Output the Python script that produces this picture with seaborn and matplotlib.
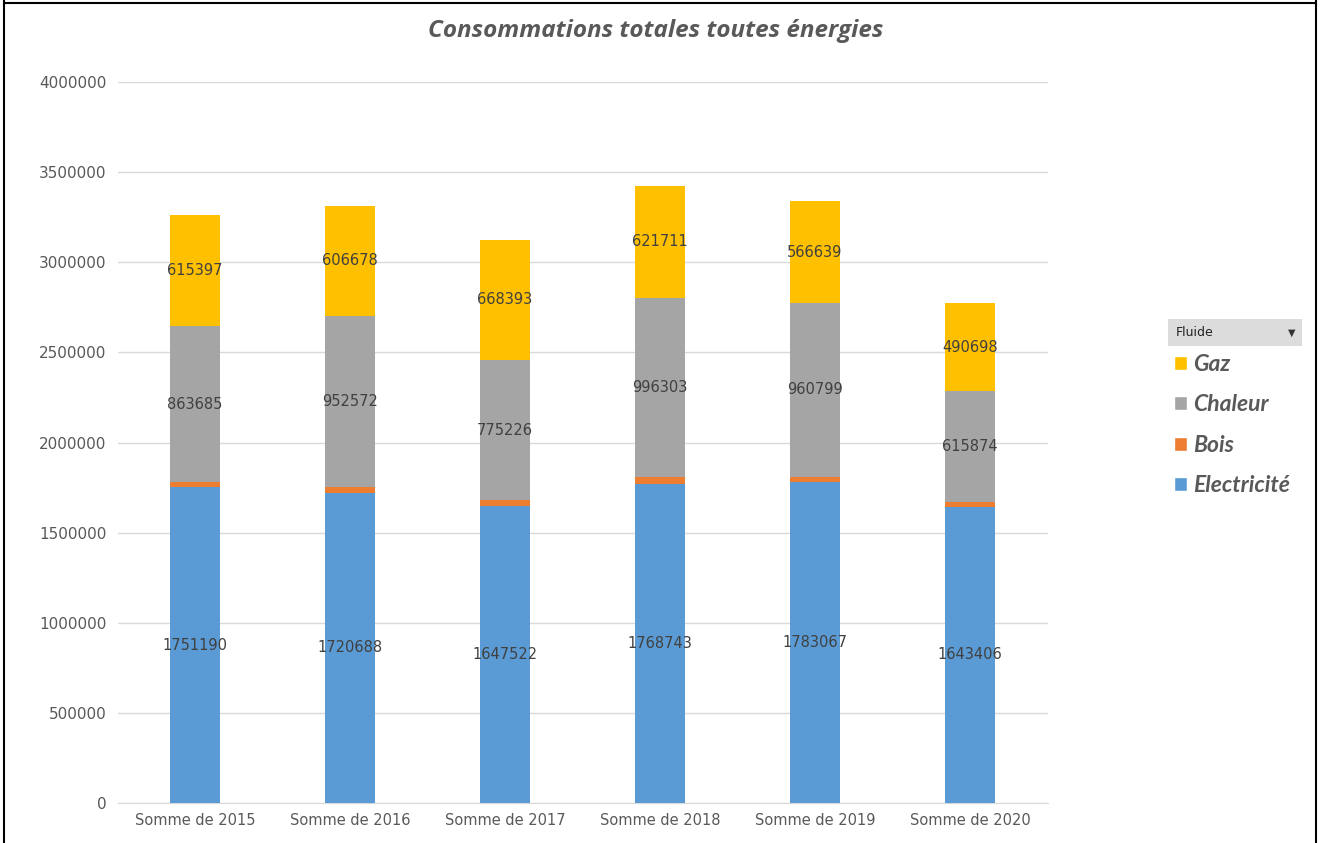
import numpy as np
import pandas as pd
import seaborn as sns
import matplotlib.pyplot as plt
from matplotlib.patches import Patch, Rectangle
from matplotlib.lines import Line2D

sns.set_style("white")

# values
annees = ["Somme de 2015", "Somme de 2016", "Somme de 2017",
          "Somme de 2018", "Somme de 2019", "Somme de 2020"]
electricite = [1751190, 1720688, 1647522, 1768743, 1783067, 1643406]
bois = [30000, 31000, 34000, 38000, 28000, 25000]  # not labelled, estimated
chaleur = [863685, 952572, 775226, 996303, 960799, 615874]
gaz = [615397, 606678, 668393, 621711, 566639, 490698]

fluides = ["Electricité", "Bois", "Chaleur", "Gaz"]
couleurs = {"Electricité": "#5B9BD5", "Bois": "#ED7D31",
            "Chaleur": "#A5A5A5", "Gaz": "#FFC000"}

df = pd.DataFrame({"annee": annees, "Electricité": electricite, "Bois": bois,
                   "Chaleur": chaleur, "Gaz": gaz})
cum = df[fluides].cumsum(axis=1)

fig = plt.figure(figsize=(13.2, 8.43), dpi=100)
ax = fig.add_axes([117.5 / 1320, 1 - 803 / 843, 930 / 1320, (803 - 82) / 843])

# stacked bars: draw cumulative totals from the top layer down
for f in fluides[::-1]:
    sns.barplot(x=df["annee"], y=cum[f], color=couleurs[f], width=0.32,
                saturation=1, ax=ax, zorder=3, linewidth=0, edgecolor="none")

# data labels (Bois is too thin, no label)
for f in ["Electricité", "Chaleur", "Gaz"]:
    for i in range(len(df)):
        y = cum[f][i] - df[f][i] / 2
        ax.text(i, y, f"{df[f][i]}", ha="center", va="center",
                fontsize=10.5, color="#404040", zorder=4)

ax.set_ylim(0, 4000000)
ax.set_xlim(-0.5, 5.5)
ax.set_yticks(np.arange(0, 4000001, 500000))
ax.set_yticklabels([f"{v}" for v in range(0, 4000001, 500000)])
ax.yaxis.grid(True, color="#d9d9d9", linewidth=1, zorder=0)
ax.set_axisbelow(True)
for s in ["top", "right", "left"]:
    ax.spines[s].set_visible(False)
ax.spines["bottom"].set_color("#d9d9d9")
ax.tick_params(axis="both", length=0, colors="#595959")
ax.tick_params(axis="y", pad=8, labelsize=11)
ax.tick_params(axis="x", pad=7, labelsize=10.5)
ax.set_xlabel("")
ax.set_ylabel("")

fig.text(0.497, 1 - 31 / 843, "Consommations totales toutes énergies",
         ha="center", va="center", fontsize=17.5, fontweight="bold",
         style="italic", color="#595959", family="Open Sans")

# legend header box
fig.add_artist(Rectangle((1168 / 1320, 1 - 346 / 843), 134 / 1320, 27 / 843,
                         transform=fig.transFigure, facecolor="#dcdcdc",
                         edgecolor="none"))
fig.text(1176 / 1320, 1 - 333 / 843, "Fluide", fontsize=9, va="center",
         color="#222222")
fig.text(1292 / 1320, 1 - 333 / 843, "▼", fontsize=7, va="center",
         ha="center", color="#333333")

handles = [Patch(facecolor=couleurs[f], label=f) for f in fluides[::-1]]
leg = fig.legend(handles=handles, loc="upper left",
                 bbox_to_anchor=(1174 / 1320, 1 - 354 / 843), frameon=False,
                 prop={"family": "Lato", "style": "italic", "weight": "bold",
                       "size": 16.5},
                 handlelength=0.55, handleheight=0.55, handletextpad=0.3,
                 labelspacing=0.85, borderaxespad=0, borderpad=0)
for t in leg.get_texts():
    t.set_color("#595959")

# screenshot frame
for xs, ys in [([0.003, 0.003], [0, 1]), ([0.003, 0.997], [0.997, 0.997]),
               ([0.997, 0.997], [0, 1])]:
    fig.add_artist(Line2D(xs, ys, color="black", linewidth=1.5,
                          transform=fig.transFigure))

fig.savefig("out.png", dpi=100)
